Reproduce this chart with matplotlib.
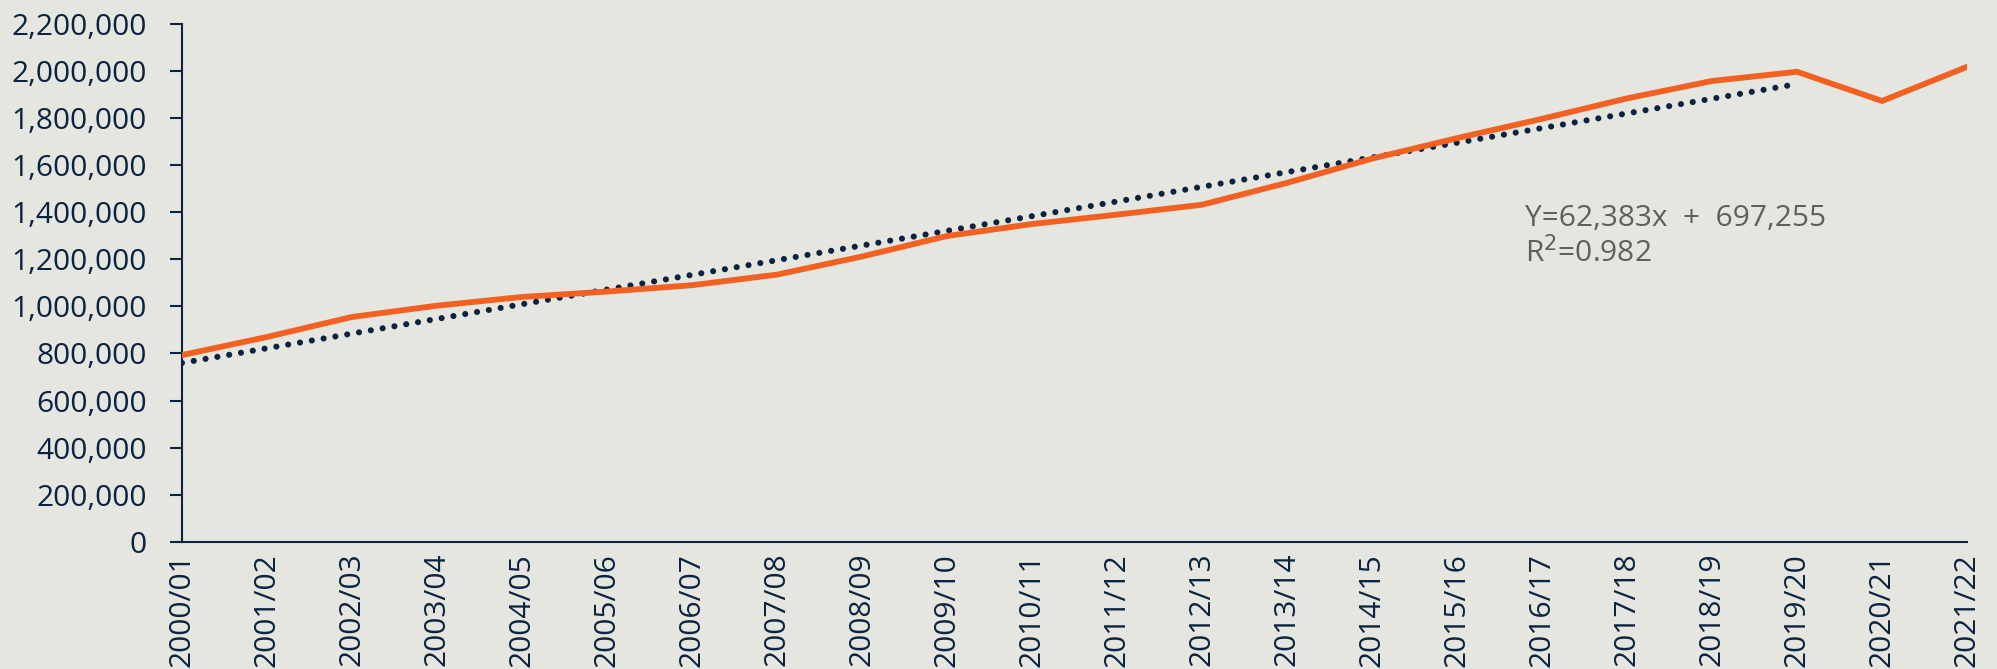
import numpy as np
import matplotlib
matplotlib.use("Agg")
import matplotlib.pyplot as plt
from matplotlib.ticker import FuncFormatter

years = ["2000/01", "2001/02", "2002/03", "2003/04", "2004/05", "2005/06",
         "2006/07", "2007/08", "2008/09", "2009/10", "2010/11", "2011/12",
         "2012/13", "2013/14", "2014/15", "2015/16", "2016/17", "2017/18",
         "2018/19", "2019/20", "2020/21", "2021/22"]
values = [793000, 870000, 955000, 1003000, 1040000, 1063000,
          1090000, 1135000, 1212000, 1299000, 1350000, 1390000,
          1432000, 1525000, 1628000, 1715000, 1797000, 1884000,
          1958000, 1997000, 1873000, 2018000]

# trend line as printed on the chart (fitted over 2000/01 - 2019/20)
slope = 62383
intercept = 697255
trend_n = 20

bg = "#E5E6E0"
navy = "#0C2340"
orange = "#F26122"

plt.rcParams["font.family"] = ["Open Sans", "DejaVu Sans"]

fig = plt.figure(figsize=(19.97, 6.69), dpi=100, facecolor=bg)
ax = fig.add_axes([0.0911, 0.1903, 0.8939, 0.7738])
ax.set_facecolor(bg)

x = np.arange(len(years))
ax.plot(x, values, color=orange, lw=4.2, solid_joinstyle="miter", zorder=3)

xt = np.arange(1, trend_n + 1)
ax.plot(x[:trend_n], slope * xt + intercept, color=navy, lw=4.4,
        linestyle=(0, (0.01, 1.95)), dash_capstyle="round", zorder=2)

ax.text(15.8, 1434000, "Y=62,383x  +  697,255\nR$^2$=0.982", color="#5F5F5F",
        fontsize=21.5, va="top", ha="left", linespacing=1.15)

ax.set_xlim(0, len(years) - 1)
ax.set_ylim(0, 2200000)
ax.set_yticks(np.arange(0, 2200001, 200000))
ax.yaxis.set_major_formatter(FuncFormatter(lambda v, p: f"{int(v):,}"))
ax.set_xticks(x)
ax.set_xticklabels(years, rotation=90, va="top", ha="center")

for s in ["top", "right"]:
    ax.spines[s].set_visible(False)
for s in ["left", "bottom"]:
    ax.spines[s].set_color(navy)
    ax.spines[s].set_linewidth(1.5)

ax.tick_params(axis="y", colors=navy, labelsize=21.5, length=8.5, width=1.5, pad=17)
ax.tick_params(axis="x", colors=navy, labelsize=21.5, length=0, pad=8)

fig.savefig("out.png", dpi=100, facecolor=bg)
